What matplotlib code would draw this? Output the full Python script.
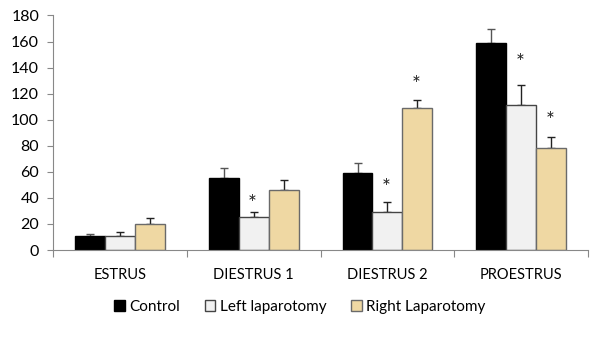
import matplotlib
matplotlib.use("Agg")
import matplotlib.pyplot as plt
import numpy as np

categories = ["ESTRUS", "DIESTRUS 1", "DIESTRUS 2", "PROESTRUS"]
series_names = ["Control", "Left laparotomy", "Right Laparotomy"]
control = [10.5, 55, 58.8, 158.7]
control_err = [2, 8, 7.7, 10.6]
left = [11, 25, 28.9, 111]
left_err = [2.6, 3.9, 7.9, 15.3]
right = [20, 46, 109, 78.5]
right_err = [4.4, 7.5, 6, 8.4]
# significance marks: (category index, series index, y position of the star)
stars = [(1, 1, 40), (2, 1, 52.4), (2, 2, 131.6), (3, 1, 148.2), (3, 2, 104)]

plt.rcParams["font.family"] = ["Lato", "DejaVu Sans"]

fig = plt.figure(figsize=(6.0, 3.43), dpi=100)
ax = fig.add_axes([0.0883, 0.271, 0.892, 0.684])

x = np.arange(len(categories))
w = 0.224
styles = [
    dict(color="#000000", edgecolor="#000000"),
    dict(color="#f1f1f1", edgecolor="#454545"),
    dict(color="#efd8a3", edgecolor="#6a6a6a"),
]
values = [control, left, right]
errors = [control_err, left_err, right_err]
for i, (vals, errs, st, name) in enumerate(zip(values, errors, styles, series_names)):
    pos = x + (i - 1) * w
    ax.bar(pos, vals, width=w, color=st["color"], edgecolor=st["edgecolor"],
           linewidth=1.0, label=name, zorder=2)
    ax.errorbar(pos, vals, yerr=[np.zeros(len(vals)), errs], fmt="none",
                ecolor="#222222" if i else "#555555", elinewidth=1.0,
                capsize=3, capthick=1.0, zorder=1)

for ci, si, ys in stars:
    ax.annotate("*", (x[ci] + (si - 1) * w - 0.01, ys), xytext=(0, -9),
                textcoords="offset points", ha="center", va="baseline",
                fontsize=15, color="#222222")

ax.set_xlim(-0.5, len(categories) - 0.5)
ax.set_ylim(0, 180)
ax.set_yticks(np.arange(0, 181, 20))
ax.set_xticks(np.arange(-0.5, len(categories), 1.0))
ax.set_xticklabels([])
ax.set_xticks(x, minor=True)
ax.set_xticklabels(categories, minor=True)
ax.tick_params(axis="x", which="minor", length=0, pad=13, labelsize=10.5)
ax.tick_params(axis="x", which="major", length=5, color="#888888")
ax.tick_params(axis="y", length=4, color="#888888", labelsize=11.5, pad=6)
for s in ["top", "right"]:
    ax.spines[s].set_visible(False)
for s in ["left", "bottom"]:
    ax.spines[s].set_color("#888888")

fig.legend(loc="lower center", bbox_to_anchor=(0.5, 0.045), ncol=3,
           frameon=False, fontsize=11, handlelength=0.7, handleheight=0.7,
           handletextpad=0.3, columnspacing=1.6)

fig.savefig("out.png", dpi=100)
